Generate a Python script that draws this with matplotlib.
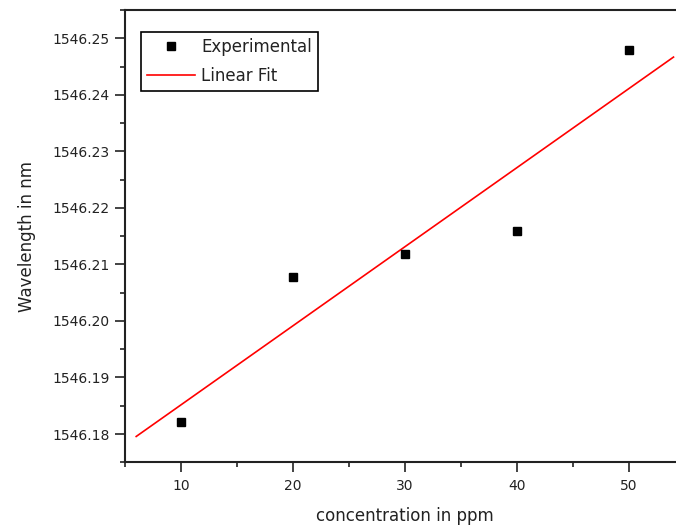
import numpy as np
import matplotlib
matplotlib.use("Agg")
import matplotlib.pyplot as plt
from matplotlib.ticker import MultipleLocator, FormatStrFormatter

# Data
conc_ppm = [10, 20, 30, 40, 50]
wavelength_nm = [1546.1822, 1546.2077, 1546.2118, 1546.2159, 1546.2480]
fit_range = [6, 54]

plt.rcParams['font.family'] = ['DejaVu Sans']

W, H = 676, 531
fig = plt.figure(figsize=(W / 100, H / 100), dpi=100)
ax = fig.add_axes([125 / W, 68.7 / H, (684.7 - 125) / W, (521 - 68.7) / H])

# linear fit
slope, intercept = np.polyfit(conc_ppm, wavelength_nm, 1)
xf = np.linspace(fit_range[0], fit_range[1], 100)
ax.plot(xf, slope * xf + intercept, color='red', lw=1.2, label='Linear Fit', zorder=2)
ax.plot(conc_ppm, wavelength_nm, 's', color='black', markersize=5.8,
        label='Experimental', zorder=3, linestyle='none')

ax.set_xlim(5, 55)
ax.set_ylim(1546.175, 1546.255)

ax.xaxis.set_major_locator(MultipleLocator(10))
ax.xaxis.set_minor_locator(MultipleLocator(5))
ax.yaxis.set_major_locator(MultipleLocator(0.01))
ax.yaxis.set_minor_locator(MultipleLocator(0.005))
ax.yaxis.set_major_formatter(FormatStrFormatter('%.2f'))

for s in ['left', 'bottom', 'top']:
    ax.spines[s].set_linewidth(1.5)
    ax.spines[s].set_color('#222222')
ax.spines['right'].set_visible(False)

ax.tick_params(which='major', direction='out', length=7, width=1.2,
               colors='#222222', labelsize=10, pad=4, top=False, right=False)
ax.tick_params(which='minor', direction='out', length=3.5, width=1.2,
               colors='#222222', top=False, right=False)
ax.tick_params(axis='x', which='major', pad=5)

ax.set_xlabel('concentration in ppm', fontsize=12, color='#222222', labelpad=10)
ax.set_ylabel('Wavelength in nm', fontsize=12, color='#222222', labelpad=12)

handles, labels = ax.get_legend_handles_labels()
leg = ax.legend(handles[::-1], labels[::-1], loc='upper left',
                bbox_to_anchor=(141 / W, 1 - 32 / H), bbox_transform=fig.transFigure,
                borderaxespad=0, fancybox=False, frameon=True, edgecolor='black',
                fontsize=12, handlelength=2.9, handletextpad=0.35,
                borderpad=0.35, labelspacing=0.65, framealpha=1)
leg.get_frame().set_linewidth(1.2)
for t in leg.get_texts():
    t.set_color('#222222')

fig.savefig('out.png', dpi=100)
